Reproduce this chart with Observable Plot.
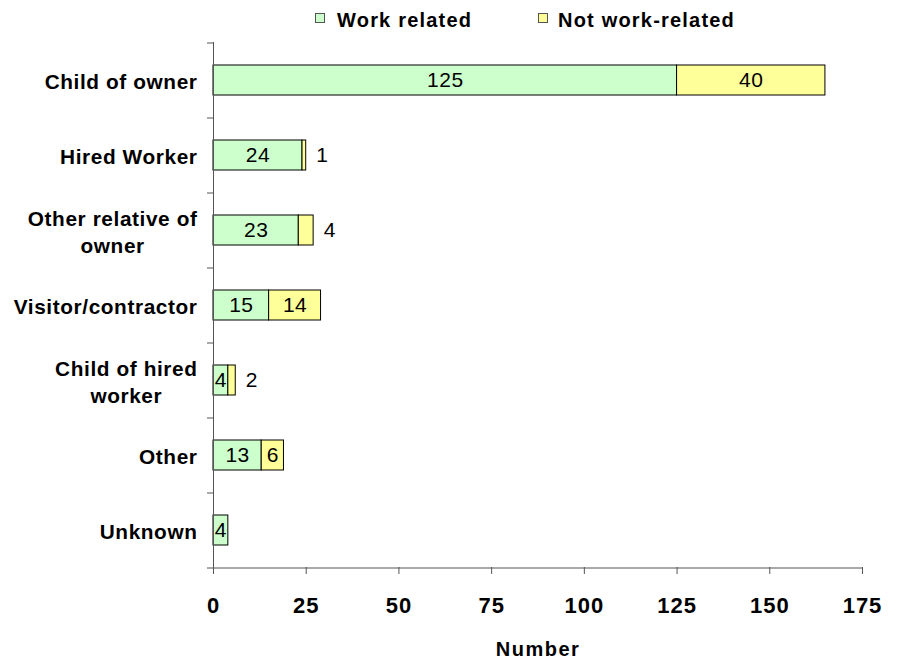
<!DOCTYPE html>
<html>
<head>
<meta charset="utf-8">
<script src="https://cdn.jsdelivr.net/npm/d3@7"></script>
<script src="https://cdn.jsdelivr.net/npm/@observablehq/plot@0.6"></script>
<style>
  html, body { margin: 0; padding: 0; background: #fff; }
  #wrap { width: 898px; height: 660px; position: relative; font-family: "Liberation Sans", Arial, sans-serif; }
  #legend { position: relative; height: 36px; width: 898px; }
  #legend .sw { position: absolute; top: 13px; width: 8px; height: 8px; border: 1px solid #555; }
  #legend .lt { position: absolute; top: 10px; font-size: 20px; line-height: 20px; font-weight: bold; letter-spacing: 1.2px; color: #000; white-space: nowrap; }
  g[font-size="20.8"] text { letter-spacing: 0.6px; }
  g[font-size="22"] text { letter-spacing: 1px; }
  g[font-size="20"] text { letter-spacing: 1.5px; }
  g[font-size="21"] text { letter-spacing: 0.5px; }
</style>
</head>
<body>
<div id="wrap">
  <div id="legend"></div>
  <div id="chart"></div>
</div>
<script>
// ---- data ----
const categories = ["Child of owner", "Hired Worker", "Other relative of owner", "Visitor/contractor", "Child of hired worker", "Other", "Unknown"];
const categoryLabels = ["Child of owner", "Hired Worker", "Other relative of\nowner", "Visitor/contractor", "Child of hired\nworker", "Other", "Unknown"];
const workRelated = [125, 24, 23, 15, 4, 13, 4];
const notWorkRelated = [40, 1, 4, 14, 2, 6, 0];
const seriesNames = ["Work related", "Not work-related"];
const seriesColors = ["#CCFFCC", "#FFFF99"];
const xTicks = [0, 25, 50, 75, 100, 125, 150, 175];
const xTitle = "Number";

// ---- build rows ----
const rows = [];
categories.forEach((c, i) => {
  rows.push({category: c, type: seriesNames[0], value: workRelated[i]});
  if (notWorkRelated[i] > 0) rows.push({category: c, type: seriesNames[1], value: notWorkRelated[i]});
});
const totals = new Map(categories.map((c, i) => [c, workRelated[i] + notWorkRelated[i]]));
const isOutside = d => d.type === seriesNames[1] && d.value < 5;
const outsideRows = rows.filter(isOutside);

// ---- layout ----
const W = 898, H = 624;
const mL = 213, mR = 36, mT = 6, mB = 93;
const step = (H - mT - mB) / categories.length;
const axisColor = "#555";
const font = "'Liberation Sans', Arial, sans-serif";

// ---- legend ----
const legend = document.getElementById("legend");
const legendPos = [[315, 337], [538, 558]];
seriesNames.forEach((name, i) => {
  const sw = document.createElement("span");
  sw.className = "sw";
  sw.style.left = legendPos[i][0] + "px";
  sw.style.background = seriesColors[i];
  legend.appendChild(sw);
  const lt = document.createElement("span");
  lt.className = "lt";
  lt.style.left = legendPos[i][1] + "px";
  lt.textContent = name;
  legend.appendChild(lt);
});

// ---- chart ----
const chart = Plot.plot({
  width: W,
  height: H,
  marginLeft: mL,
  marginRight: mR,
  marginTop: mT,
  marginBottom: mB,
  style: {fontFamily: font, background: "white", overflow: "visible", color: "#000"},
  x: {domain: [0, 175], axis: null},
  y: {domain: categories, paddingInner: 0.6, paddingOuter: 0.3, axis: null},
  color: {domain: seriesNames, range: seriesColors},
  marks: [
    Plot.barX(rows, Plot.stackX({x: "value", y: "category", fill: "type", stroke: "#000", strokeWidth: 1})),
    Plot.text(rows, Plot.stackX({x: "value", y: "category", z: "type", text: d => isOutside(d) ? "" : String(d.value), fontSize: 21, fill: "#000"})),
    Plot.text(outsideRows, {x: d => totals.get(d.category), y: "category", text: d => String(d.value), textAnchor: "start", dx: 10, fontSize: 21, fill: "#000"}),
    // y axis line
    Plot.ruleX([0], {stroke: axisColor, strokeWidth: 1}),
    // y tick marks at band boundaries
    Plot.ruleY(categories, {y: d => d, dy: -step / 2, x1: 0, x2: 0, insetLeft: -6, stroke: axisColor, strokeWidth: 1}),
    // x axis line
    Plot.ruleY([categories[categories.length - 1]], {y: d => d, dy: step / 2, x1: 0, x2: 175, insetLeft: -6, stroke: axisColor, strokeWidth: 1}),
    Plot.axisX(xTicks, {tickSize: 7, tickPadding: 23, fontSize: 22, fontWeight: "bold", stroke: axisColor, fill: "#000", tickFormat: d => String(d), label: null}),
    Plot.text(categories, {y: d => d, text: (d, i) => categoryLabels[i], frameAnchor: "left", dx: -16, textAnchor: "end", lineAnchor: "middle", lineHeight: 1.3, fontSize: 20.8, fontWeight: "bold", fill: "#000"}),
    Plot.text([xTitle], {frameAnchor: "bottom", dy: 82, lineAnchor: "middle", fontSize: 20, fontWeight: "bold", fill: "#000"})
  ]
});
document.getElementById("chart").appendChild(chart);

// Center the lines of multi-line category labels within their right-aligned block
d3.select(chart).selectAll('g[font-size="20.8"] text').each(function () {
  const spans = d3.select(this).selectAll("tspan");
  if (spans.size() < 2) return;
  let maxW = 0;
  spans.each(function () { maxW = Math.max(maxW, this.getComputedTextLength()); });
  d3.select(this).attr("text-anchor", "middle");
  spans.attr("x", -maxW / 2);
});
</script>
</body>
</html>
